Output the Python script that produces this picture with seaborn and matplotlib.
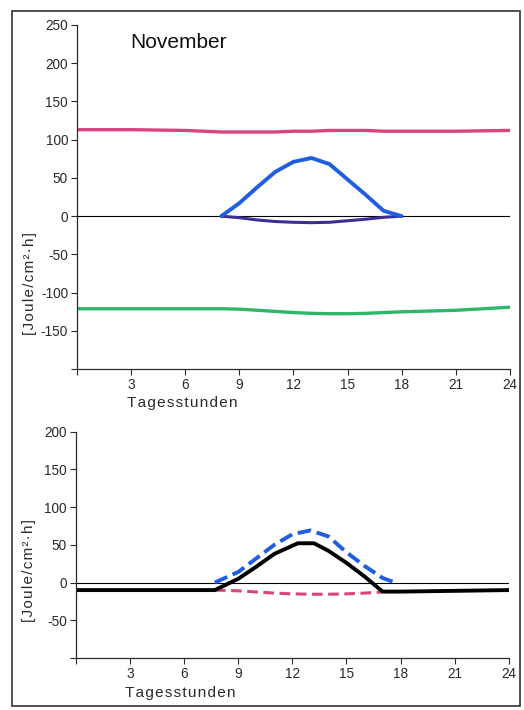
import matplotlib
matplotlib.use("Agg")
import matplotlib.pyplot as plt
import seaborn as sns

# =========================
# DATA
# =========================
# top panel: radiation balance components, November
hours_long = [0, 3, 6, 8, 9, 10, 11, 12, 13, 14, 15, 16, 17, 18, 21, 24]
pink_top = [113, 113, 112, 110, 110, 110, 110, 111, 111, 112, 112, 112, 111, 111, 111, 112]
green_top = [-121, -121, -121, -121, -121.5, -123, -124.5, -126, -127, -127.5, -127.5, -127, -126, -125, -123, -119]

hours_day = [8, 9, 10, 11, 12, 13, 14, 15, 16, 17, 18]
blue_top = [0, 17, 38, 58, 71, 76, 68, 48, 28, 7, 0]
purple_top = [0, -2, -5, -7, -8, -8.5, -8, -6, -4, -1.5, 0]

# bottom panel
hours_black = [0, 3, 6, 7.7, 9, 10, 11, 12.3, 13.2, 14, 15, 16, 17, 18, 21, 24]
black_bot = [-10, -10, -10, -10, 5, 21, 38, 52, 52, 42, 26, 8, -12, -12, -11, -10]

hours_blue = [7.7, 9, 10, 11, 12, 13, 14, 15, 16, 17, 17.7]
blue_bot = [0, 14, 32, 50, 64, 69, 61, 40, 22, 6, 0]

hours_pink = [7.7, 9, 10, 11, 12, 13, 14, 15, 16, 17]
pink_bot = [-10, -11, -12.5, -14, -15, -15.5, -15.5, -15, -14, -12.5]

X_TICKS = [0, 3, 6, 9, 12, 15, 18, 21, 24]
X_LABELS = ["", "3", "6", "9", "12", "15", "18", "21", "24"]

PINK = "#d8457c"
GREEN = "#2fb56a"
BLUE = "#1f5ee3"
PURPLE = "#3a2f92"
INK = "#2a2a2a"

# =========================
# FIGURE
# =========================
sns.set_style("ticks")
plt.rcParams["font.family"] = ["Liberation Sans", "DejaVu Sans"]

fig = plt.figure(figsize=(5.24, 7.10), dpi=100)
ax1 = fig.add_axes([0.147, 0.480, 0.826, 0.485])
ax2 = fig.add_axes([0.145, 0.0732, 0.826, 0.319])

# outer frame
fig.add_artist(plt.Rectangle((12 / 524, 1 - 706 / 710), 508 / 524, 695 / 710,
                             transform=fig.transFigure, fill=False,
                             edgecolor="#333333", lw=1.2))

HS = "\u200a"  # hair space for the wide letter spacing of the labels
YLABEL = HS.join("[Joule/cm²·h]")
XLABEL = HS.join("Tagesstunden")


def style_axes(ax, ymin, ymax, yticks, ylabel_y, xlabel_y):
    ax.set_xlim(0, 24)
    ax.set_ylim(ymin, ymax)
    ax.set_xticks(X_TICKS)
    ax.set_xticklabels(X_LABELS)
    ax.set_yticks(yticks)
    ax.set_yticklabels([str(t) if t != ymin else "" for t in yticks])
    ax.tick_params(labelsize=9.8, length=4, width=0.8, colors=INK, pad=2.5)
    sns.despine(ax=ax)
    for s in ["left", "bottom"]:
        ax.spines[s].set_linewidth(0.9)
        ax.spines[s].set_color(INK)
    ax.axhline(0, color="black", lw=0.8, zorder=1)
    ax.set_ylabel(YLABEL, fontsize=11, color=INK)
    ax.yaxis.set_label_coords(-0.092, ylabel_y)
    ax.set_xlabel(XLABEL, fontsize=11, color=INK)
    ax.xaxis.set_label_coords(0.242, xlabel_y)
    ax.xaxis.label.set_va("top")


# top panel
sns.lineplot(x=hours_long, y=pink_top, ax=ax1, color=PINK, lw=2.4)
sns.lineplot(x=hours_long, y=green_top, ax=ax1, color=GREEN, lw=2.4)
sns.lineplot(x=hours_day, y=purple_top, ax=ax1, color=PURPLE, lw=2.2)
sns.lineplot(x=hours_day, y=blue_top, ax=ax1, color=BLUE, lw=2.8)
style_axes(ax1, -200, 250, list(range(-200, 251, 50)), 0.25, -0.078)
ax1.text(0.122, 0.948, "November", transform=ax1.transAxes, fontsize=15,
         va="center", ha="left", color="#111111")

# bottom panel
sns.lineplot(x=hours_pink, y=pink_bot, ax=ax2, color=PINK, lw=2.2, linestyle=(0, (3.5, 1.8)))
sns.lineplot(x=hours_blue, y=blue_bot, ax=ax2, color=BLUE, lw=2.8, linestyle=(0, (3.5, 1.5)))
sns.lineplot(x=hours_black, y=black_bot, ax=ax2, color="black", lw=2.8)
style_axes(ax2, -100, 200, list(range(-100, 201, 50)), 0.385, -0.124)

plt.savefig("out.png", dpi=100)
